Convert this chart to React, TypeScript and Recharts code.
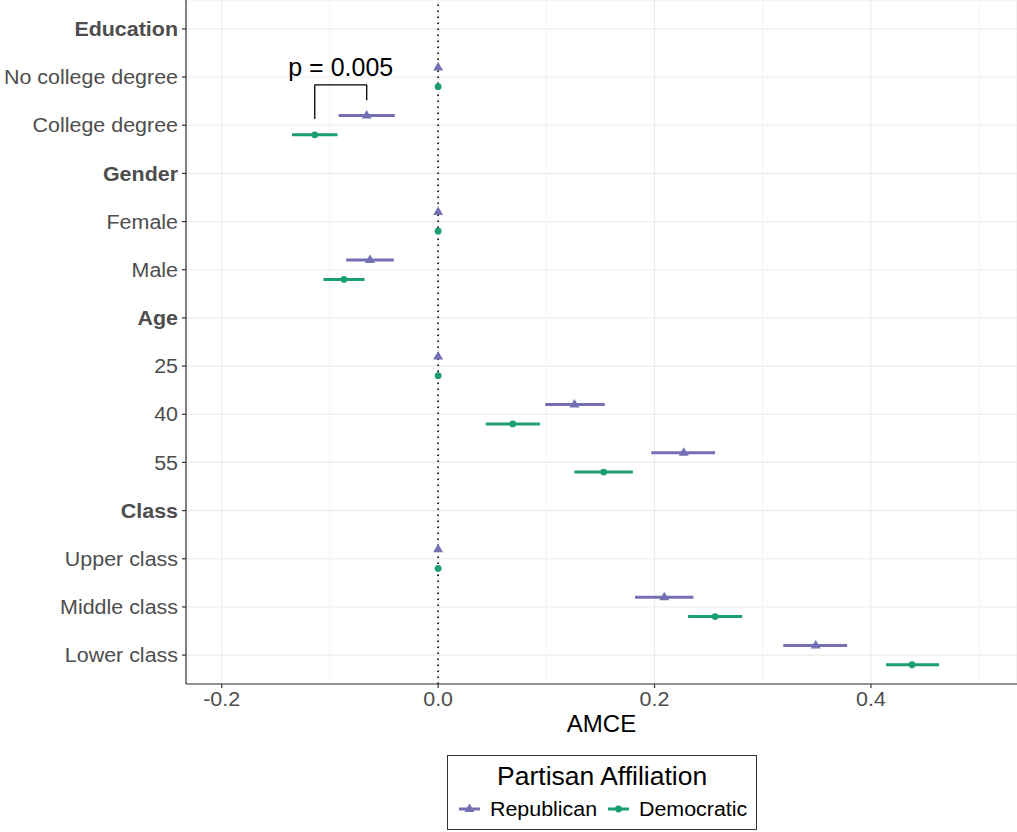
import { ScatterChart, Scatter, XAxis, YAxis, CartesianGrid, ReferenceLine, ReferenceDot, ErrorBar, Legend } from 'recharts'

// rows top to bottom, headers in bold
const ROWS = ['Education', 'No college degree', 'College degree', 'Gender', 'Female', 'Male', 'Age', '25', '40', '55', 'Class', 'Upper class', 'Middle class', 'Lower class']
const HEADERS = ['Education', 'Gender', 'Age', 'Class']

const LEVELS = ['No college degree', 'College degree', 'Female', 'Male', '25', '40', '55', 'Upper class', 'Middle class', 'Lower class']
const REP_EST = [0, -0.066, 0, -0.063, 0, 0.126, 0.227, 0, 0.209, 0.349]
const REP_LO = [0, -0.092, 0, -0.085, 0, 0.099, 0.197, 0, 0.182, 0.319]
const REP_HI = [0, -0.040, 0, -0.041, 0, 0.154, 0.256, 0, 0.236, 0.378]
const DEM_EST = [0, -0.114, 0, -0.087, 0, 0.069, 0.153, 0, 0.256, 0.438]
const DEM_LO = [0, -0.135, 0, -0.106, 0, 0.044, 0.126, 0, 0.231, 0.414]
const DEM_HI = [0, -0.093, 0, -0.068, 0, 0.094, 0.180, 0, 0.281, 0.463]

const X_TICKS = [-0.2, 0, 0.2, 0.4]
const X_MINOR = [-0.1, 0.1, 0.3, 0.5]

const REP = '#7570b3'
const DEM = '#1b9e77'
const TXT = '#4d4d4d'
const FONT = '"Liberation Sans", Arial, Helvetica, sans-serif'
const DODGE = 0.2

const rowOf = (l: string) => ROWS.indexOf(l)
const repData = LEVELS.map((l, i) => ({ x: REP_EST[i], y: rowOf(l) - DODGE, err: [REP_EST[i] - REP_LO[i], REP_HI[i] - REP_EST[i]] }))
const demData = LEVELS.map((l, i) => ({ x: DEM_EST[i], y: rowOf(l) + DODGE, err: [DEM_EST[i] - DEM_LO[i], DEM_HI[i] - DEM_EST[i]] }))

const stretch = (k: number, origin: string) => ({ transform: `scaleX(${k})`, transformBox: 'fill-box' as const, transformOrigin: origin })

const Tri = ({ cx, cy }: any) => (
  <path d={`M${cx},${cy - 5.5}L${cx + 5},${cy + 3}L${cx - 5},${cy + 3}Z`} fill={REP} />
)
const Dot = ({ cx, cy }: any) => <circle cx={cx} cy={cy} r={3.4} fill={DEM} />

const YTick = ({ x, y, payload }: any) => {
  const label = ROWS[payload.value]
  return (
    <text x={x} y={y} textAnchor="end" dominantBaseline="central" fill={TXT} fontSize={19.5} fontFamily={FONT}
      fontWeight={HEADERS.includes(label) ? 700 : 400} style={stretch(1.1, 'right center')}>
      {label}
    </text>
  )
}

const XTick = ({ x, y, payload }: any) => (
  <text x={x} y={y} dy="0.71em" textAnchor="middle" fill={TXT} fontSize={19.5} fontFamily={FONT} style={stretch(1.1, 'center')}>
    {Number(payload.value).toFixed(1)}
  </text>
)

const PLabel = ({ cx, cy }: any) => (
  <text x={cx} y={cy} textAnchor="middle" dominantBaseline="central" fill="#000" fontSize={25} fontFamily={FONT}>p = 0.005</text>
)

const LegendBox = () => (
  <div style={{ position: 'relative', boxSizing: 'border-box', width: 310, height: 75, border: '1.3px solid #333', background: '#fff', fontFamily: FONT, color: '#000' }}>
    <div style={{ position: 'absolute', left: 0, right: 0, top: 5, textAlign: 'center', fontSize: 25, lineHeight: '30px' }}>
      <span style={{ display: 'inline-block', transform: 'scaleX(1.06)' }}>Partisan Affiliation</span>
    </div>
    <svg width={40} height={20} style={{ position: 'absolute', left: 8, top: 43 }}>
      <line x1={3} x2={24} y1={10} y2={10} stroke={REP} strokeWidth={3} />
      <path d="M13.5,4.5L18.5,13L8.5,13Z" fill={REP} />
    </svg>
    <span style={{ position: 'absolute', left: 42, top: 41, fontSize: 20, lineHeight: '24px', display: 'inline-block', transform: 'scaleX(1.07)', transformOrigin: 'left center' }}>Republican</span>
    <svg width={40} height={20} style={{ position: 'absolute', left: 157, top: 43 }}>
      <line x1={3} x2={24} y1={10} y2={10} stroke={DEM} strokeWidth={3} />
      <circle cx={13.5} cy={10} r={3.4} fill={DEM} />
    </svg>
    <span style={{ position: 'absolute', left: 191, top: 41, fontSize: 20, lineHeight: '24px', display: 'inline-block', transform: 'scaleX(1.07)', transformOrigin: 'left center' }}>Democratic</span>
  </div>
)

export default function App() {
  return (
    <div style={{ width: 1017, height: 832, background: '#fff' }}>
      <style>{'body{margin:0;overflow:hidden}'}</style>
      <ScatterChart width={1017} height={832} margin={{ top: 0, right: 0, bottom: 108, left: 0 }}>
        <CartesianGrid stroke="#ebebeb" strokeWidth={1.1} />
        {X_MINOR.map(v => (
          <ReferenceLine key={v} x={v} stroke="#f4f4f4" strokeWidth={1} />
        ))}
        <XAxis type="number" dataKey="x" domain={[-0.233, 0.535]} allowDataOverflow ticks={X_TICKS} interval={0}
          height={40} tickSize={4} tickMargin={4} tick={<XTick />}
          axisLine={{ stroke: '#333', strokeWidth: 1.2 }} tickLine={{ stroke: '#333', strokeWidth: 1.2 }}
          label={(p: any) => {
            const vb = p.viewBox
            return <text x={vb.x + vb.width / 2} y={vb.y + 39} textAnchor="middle" dominantBaseline="central" fill="#000" fontSize={24} fontFamily={FONT}>AMCE</text>
          }} />
        <YAxis type="number" dataKey="y" domain={[-0.6, 13.6]} reversed allowDataOverflow
          ticks={ROWS.map((_, i) => i)} interval={0} width={186} tickSize={4} tickMargin={4} tick={<YTick />}
          axisLine={{ stroke: '#333', strokeWidth: 1.2 }} tickLine={{ stroke: '#333', strokeWidth: 1.2 }} />
        <ReferenceLine x={0} stroke="#000" strokeWidth={1.6} strokeDasharray="1.6 4.4" />
        <ReferenceLine segment={[{ x: DEM_EST[1], y: 1.87 }, { x: DEM_EST[1], y: 1.16 }]} stroke="#000" strokeWidth={1.3} />
        <ReferenceLine segment={[{ x: DEM_EST[1], y: 1.16 }, { x: REP_EST[1], y: 1.16 }]} stroke="#000" strokeWidth={1.3} />
        <ReferenceLine segment={[{ x: REP_EST[1], y: 1.16 }, { x: REP_EST[1], y: 1.48 }]} stroke="#000" strokeWidth={1.3} />
        <ReferenceDot x={(DEM_EST[1] + REP_EST[1]) / 2} y={0.8} r={0} shape={<PLabel />} />
        <Scatter name="Republican" data={repData} shape={<Tri />} isAnimationActive={false}>
          <ErrorBar dataKey="err" direction="x" width={0} stroke={REP} strokeWidth={3} />
        </Scatter>
        <Scatter name="Democratic" data={demData} shape={<Dot />} isAnimationActive={false}>
          <ErrorBar dataKey="err" direction="x" width={0} stroke={DEM} strokeWidth={3} />
        </Scatter>
        <Legend layout="horizontal" align="center" verticalAlign="middle" content={<LegendBox />}
          wrapperStyle={{ left: 447, top: 755, width: 310, height: 75 }} />
      </ScatterChart>
    </div>
  )
}
